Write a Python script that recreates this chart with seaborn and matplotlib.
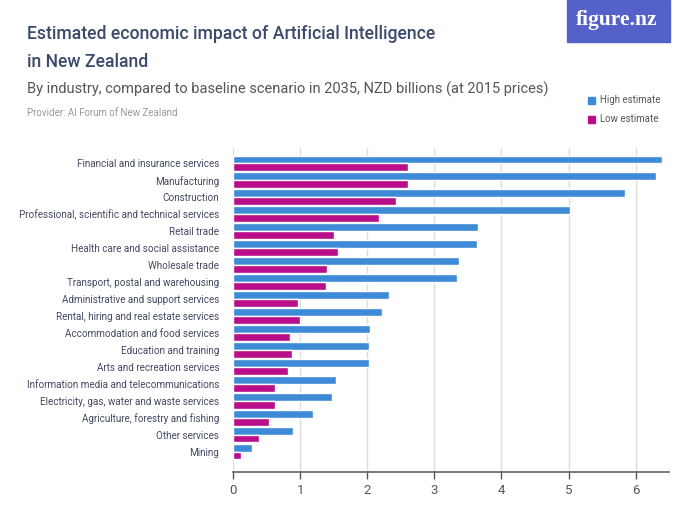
import pandas as pd
import seaborn as sns
import matplotlib.pyplot as plt
from matplotlib.patches import Rectangle

sns.set_theme(style="white")
plt.rcParams['font.family'] = ['Roboto', 'DejaVu Sans']

industries = [
    "Financial and insurance services", "Manufacturing", "Construction",
    "Professional, scientific and technical services", "Retail trade",
    "Health care and social assistance", "Wholesale trade",
    "Transport, postal and warehousing", "Administrative and support services",
    "Rental, hiring and real estate services", "Accommodation and food services",
    "Education and training", "Arts and recreation services",
    "Information media and telecommunications",
    "Electricity, gas, water and waste services",
    "Agriculture, forestry and fishing", "Other services", "Mining",
]
high = [6.40, 6.31, 5.84, 5.02, 3.65, 3.63, 3.36, 3.33, 2.33,
        2.22, 2.04, 2.03, 2.02, 1.53, 1.47, 1.19, 0.89, 0.28]
low = [2.60, 2.60, 2.43, 2.17, 1.50, 1.56, 1.40, 1.38, 0.96,
       0.99, 0.85, 0.88, 0.82, 0.63, 0.63, 0.53, 0.38, 0.12]
series = ["High estimate", "Low estimate"]
colors = {"High estimate": "#3D8BD6", "Low estimate": "#B90E8A"}

df = pd.DataFrame({"industry": industries * 2,
                   "value": high + low,
                   "series": [series[0]] * len(high) + [series[1]] * len(low)})

fig = plt.figure(figsize=(7, 5.25), dpi=100)
ax = fig.add_axes([0.333, 0.101, 0.623, 0.617])

sns.barplot(data=df, x="value", y="industry", hue="series", order=industries,
            palette=colors, width=0.92, saturation=1, legend=False, ax=ax)

ax.set_xlim(0, 6.5)
ax.set_ylim(18.2, -0.9)
ax.set_xticks(range(7))
ax.xaxis.grid(True, color="#dddddd", linewidth=1)
ax.set_axisbelow(True)
for s in ["top", "right", "left"]:
    ax.spines[s].set_visible(False)
ax.spines["bottom"].set_color("#666666")
ax.tick_params(axis="x", colors="#555555", labelsize=9.5, length=5, width=1,
               direction="out", bottom=True)
ax.tick_params(axis="y", length=0, labelsize=7.1, labelcolor="#434a60", pad=10)
ax.set_xlabel("")
ax.set_ylabel("")

# titles
fig.text(0.039, 0.925, "Estimated economic impact of Artificial Intelligence",
         fontsize=12.7, color="#3B4A6B", va="baseline", weight="medium")
fig.text(0.039, 0.873, "in New Zealand", fontsize=12.7, color="#3B4A6B",
         va="baseline", weight="medium")
fig.text(0.039, 0.822, "By industry, compared to baseline scenario in 2035, NZD billions (at 2015 prices)",
         fontsize=10.5, color="#555555", va="baseline")
fig.text(0.039, 0.779, "Provider: AI Forum of New Zealand", fontsize=7,
         color="#999999", va="baseline")

# logo
fig.patches.append(Rectangle((567 / 700, 1 - 42 / 525), 103 / 700, 42 / 525,
                             transform=fig.transFigure, color="#5361C9", zorder=1))
fig.text(617 / 700, 1 - 20 / 525, "figure.nz", fontsize=15.5, color="white",
         ha="center", va="center", family=["Liberation Serif", "DejaVu Serif"],
         weight="bold")

# legend
for i, name in enumerate(series):
    y = 1 - (100 + i * 19) / 525
    fig.patches.append(Rectangle((588 / 700, y - 3.5 / 525), 7 / 700, 7 / 525,
                                 transform=fig.transFigure, color=colors[name]))
    fig.text(600 / 700, y, name, fontsize=7, color="#555555", va="center")

fig.savefig("out.png", dpi=100)
